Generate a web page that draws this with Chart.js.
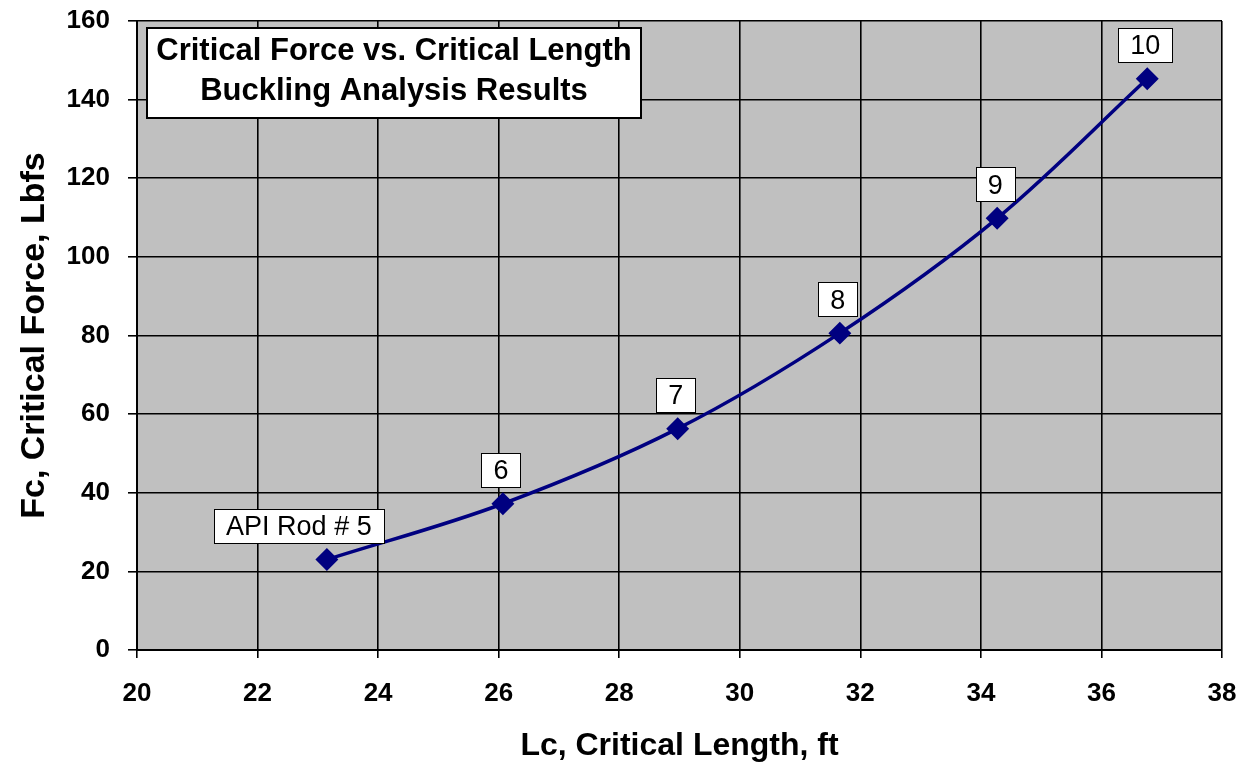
<!DOCTYPE html>
<html>
<head>
<meta charset="utf-8">
<script src="https://cdn.jsdelivr.net/npm/chart.js@4/dist/chart.umd.min.js"></script>
<style>
  html, body { margin: 0; padding: 0; background: #fff; }
  #wrap { width: 1252px; height: 769px; }
</style>
</head>
<body>
<div id="wrap"><canvas id="chart" width="1252" height="769"></canvas></div>
<script>
// Data
const criticalLength = [23.15, 26.07, 28.97, 31.66, 34.27, 36.76];
const criticalForce = [23.0, 37.2, 56.3, 80.6, 109.8, 145.3];
const pointLabels = ['API Rod # 5', '6', '7', '8', '9', '10'];
const chartTitle = ['Critical Force vs. Critical Length', 'Buckling Analysis Results'];

const FONT = '"Liberation Sans", Arial, sans-serif';

// Grey plot background
const plotBackground = {
  id: 'plotBackground',
  beforeDraw(chart) {
    const { ctx, chartArea: a } = chart;
    ctx.save();
    ctx.fillStyle = '#c0c0c0';
    ctx.fillRect(a.left, a.top, a.right - a.left, a.bottom - a.top);
    ctx.restore();
  }
};

// White boxed labels above each point
const boxedLabels = {
  id: 'boxedLabels',
  afterDatasetsDraw(chart) {
    const { ctx } = chart;
    const meta = chart.getDatasetMeta(0);
    ctx.save();
    ctx.font = '27px ' + FONT;
    ctx.textAlign = 'center';
    ctx.textBaseline = 'middle';
    meta.data.forEach((pt, i) => {
      const text = pointLabels[i];
      const dx = i === 0 ? -28 : -2;
      const cx = pt.x + dx;
      const cy = pt.y - 34;
      const w = Math.round(ctx.measureText(text).width + 24);
      const h = 34;
      const left = Math.round(cx - w / 2), top = Math.round(cy - h / 2);
      ctx.fillStyle = '#fff';
      ctx.fillRect(left, top, w, h);
      ctx.strokeStyle = '#000';
      ctx.lineWidth = 1;
      ctx.strokeRect(left + 0.5, top + 0.5, w, h);
      ctx.fillStyle = '#000';
      ctx.fillText(text, cx, cy + 2);
    });
    ctx.restore();
  }
};

// Title box in the upper left of the plot
const titleBox = {
  id: 'titleBox',
  afterDraw(chart) {
    const { ctx, chartArea: a } = chart;
    const x = a.left + 10, y = a.top + 7, w = 494, h = 90;
    ctx.save();
    ctx.fillStyle = '#fff';
    ctx.fillRect(x, y, w, h);
    ctx.strokeStyle = '#000';
    ctx.lineWidth = 2;
    ctx.strokeRect(x, y, w, h);
    ctx.fillStyle = '#000';
    ctx.font = 'bold 31px ' + FONT;
    ctx.textAlign = 'center';
    ctx.textBaseline = 'middle';
    ctx.fillText(chartTitle[0], x + w / 2, y + 23);
    ctx.fillText(chartTitle[1], x + w / 2, y + 63);
    ctx.restore();
  }
};

new Chart(document.getElementById('chart'), {
  type: 'scatter',
  data: {
    datasets: [{
      data: criticalLength.map((x, i) => ({ x: x, y: criticalForce[i] })),
      showLine: true,
      borderColor: '#000080',
      borderWidth: 3.5,
      tension: 0.35,
      pointStyle: 'rectRot',
      pointRadius: 9,
      pointHoverRadius: 9,
      pointBackgroundColor: '#000080',
      pointBorderColor: '#000080'
    }]
  },
  options: {
    responsive: false,
    animation: false,
    layout: { padding: { top: 21, right: 30, left: 0, bottom: 0 } },
    plugins: {
      legend: { display: false },
      tooltip: { enabled: false }
    },
    scales: {
      x: {
        type: 'linear',
        min: 20,
        max: 38,
        afterFit(scale) {
          scale.height = 119;
          scale.paddingLeft = 0;
          scale.paddingRight = 0;
        },
        ticks: {
          stepSize: 2,
          color: '#000',
          padding: 20,
          font: { family: FONT, size: 26, weight: 'bold' }
        },
        grid: { color: '#000', lineWidth: 1.6, tickLength: 8 },
        border: { color: '#000', width: 2 },
        title: {
          display: true,
          text: 'Lc, Critical Length, ft',
          color: '#000',
          font: { family: FONT, size: 32, weight: 'bold' },
          padding: { top: 0, bottom: 4 }
        }
      },
      y: {
        min: 0,
        max: 160,
        afterFit(scale) {
          scale.width = 137;
          scale.paddingTop = 0;
          scale.paddingBottom = 0;
        },
        ticks: {
          stepSize: 20,
          color: '#000',
          padding: 18,
          font: { family: FONT, size: 26, weight: 'bold' }
        },
        grid: { color: '#000', lineWidth: 1.6, tickLength: 9 },
        border: { color: '#000', width: 2 },
        title: {
          display: true,
          text: 'Fc, Critical Force, Lbfs',
          color: '#000',
          font: { family: FONT, size: 34, weight: 'bold' },
          padding: { top: 14, bottom: 0 }
        }
      }
    }
  },
  plugins: [plotBackground, boxedLabels, titleBox]
});
</script>
</body>
</html>
